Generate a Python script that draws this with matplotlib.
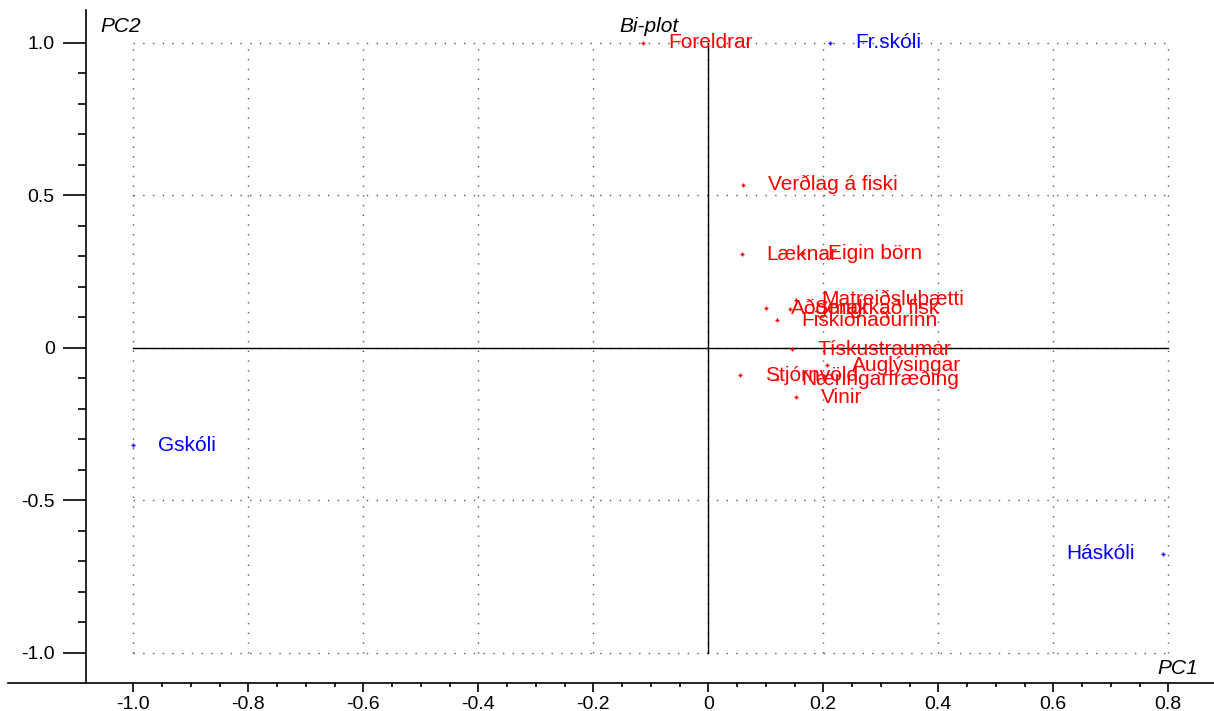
import matplotlib.pyplot as plt
import numpy as np
from matplotlib.ticker import FixedLocator

OUT_PNG = "out.png"

LOAD_NAMES = ["Foreldrar", "Verðlag á fiski", "Læknar", "Eigin börn", "Matreiðsluþætti",
              "Aðgengi", "Smakkað fisk", "Fiskiðnaðurinn", "Tískustraumar", "Auglýsingar",
              "Stjórnvöld", "Næringarfræðing", "Vinir"]
LOAD_PC1 = [-0.113, 0.061, 0.058, 0.165, 0.153, 0.101, 0.142, 0.119, 0.146, 0.207, 0.055, 0.119, 0.153]
LOAD_PC2 = [1.0, 0.534, 0.307, 0.310, 0.157, 0.130, 0.128, 0.090, -0.005, -0.057, -0.090, -0.103, -0.162]

SCORE_NAMES = ["Fr.skóli", "Gskóli", "Háskóli"]
SCORE_PC1 = [0.212, -1.0, 0.79]
SCORE_PC2 = [1.0, -0.32, -0.675]

X_TICKS = [-1.0, -0.8, -0.6, -0.4, -0.2, 0.0, 0.2, 0.4, 0.6, 0.8]
X_LABELS = ["-1.0", "-0.8", "-0.6", "-0.4", "-0.2", "0", "0.2", "0.4", "0.6", "0.8"]
Y_TICKS = [-1.0, -0.5, 0.0, 0.5, 1.0]
Y_LABELS = ["-1.0", "-0.5", "0", "0.5", "1.0"]

RED = "#ff0000"
BLUE = "#0000ff"

plt.rcParams["font.family"] = ["Liberation Sans", "DejaVu Sans"]

W, H = 1214, 711
fig = plt.figure(figsize=(W / 100, H / 100), dpi=100)
ax = fig.add_axes([8 / W, (H - 683) / H, (W - 8) / W, (683 - 10) / H])
ax.set_xlim(-1.218, 0.8795)
ax.set_ylim(-1.099, 1.107)

for s in ("top", "right"):
    ax.spines[s].set_visible(False)
ax.spines["left"].set_position(("axes", 78 / 1206))
ax.spines["left"].set_linewidth(1.2)
ax.spines["bottom"].set_linewidth(1.2)

ax.xaxis.set_major_locator(FixedLocator(X_TICKS))
ax.set_xticklabels(X_LABELS)
ax.xaxis.set_minor_locator(FixedLocator(np.arange(-1.0, 0.801, 0.05)))
ax.yaxis.set_major_locator(FixedLocator(Y_TICKS))
ax.set_yticklabels(Y_LABELS)
ax.yaxis.set_minor_locator(FixedLocator(np.arange(-1.0, 1.001, 0.1)))
ax.tick_params(axis="x", which="major", length=6.5, width=1.2, pad=3, labelsize=14)
ax.tick_params(axis="x", which="minor", length=3, width=1.2)
ax.tick_params(axis="y", which="major", length=16.5, width=1.2, pad=6, labelsize=14)
ax.tick_params(axis="y", which="minor", length=6, width=1.2)

# dotted grid inside the data box only
x0, x1 = X_TICKS[0], X_TICKS[-1]
y0, y1 = Y_TICKS[0], Y_TICKS[-1]
for x in X_TICKS:
    ax.plot([x, x], [y0, y1], color="0.35", lw=1, ls=(0, (1, 6)), zorder=1)
for y in Y_TICKS:
    ax.plot([x0, x1], [y, y], color="0.35", lw=1, ls=(0, (1, 6)), zorder=1)
ax.plot([x0, x1], [0, 0], color="black", lw=1, zorder=2)
ax.plot([0, 0], [y0, y1], color="black", lw=1, zorder=2)

ax.plot(LOAD_PC1, LOAD_PC2, ls="none", marker="+", ms=3, mew=1, color=RED, zorder=3)
ax.plot(SCORE_PC1, SCORE_PC2, ls="none", marker="+", ms=3, mew=1, color=BLUE, zorder=3)

for name, x, y in zip(LOAD_NAMES, LOAD_PC1, LOAD_PC2):
    ax.annotate(name, (x, y), xytext=(18, 0), textcoords="offset points",
                va="center", ha="left", color=RED, fontsize=15, zorder=4)
for name, x, y in zip(SCORE_NAMES, SCORE_PC1, SCORE_PC2):
    right = x > 0.5
    ax.annotate(name, (x, y), xytext=(-20 if right else 18, 0), textcoords="offset points",
                va="center", ha="right" if right else "left", color=BLUE, fontsize=15, zorder=4)

fig.text(100 / W, 1 - 27 / H, "PC2", style="italic", fontsize=15, va="center", ha="left")
fig.text(619 / W, 1 - 26 / H, "Bi-plot", style="italic", fontsize=15, va="center", ha="left")
fig.text(1198 / W, 1 - 668 / H, "PC1", style="italic", fontsize=15, va="center", ha="right")

fig.savefig(OUT_PNG, dpi=100)
plt.close(fig)
